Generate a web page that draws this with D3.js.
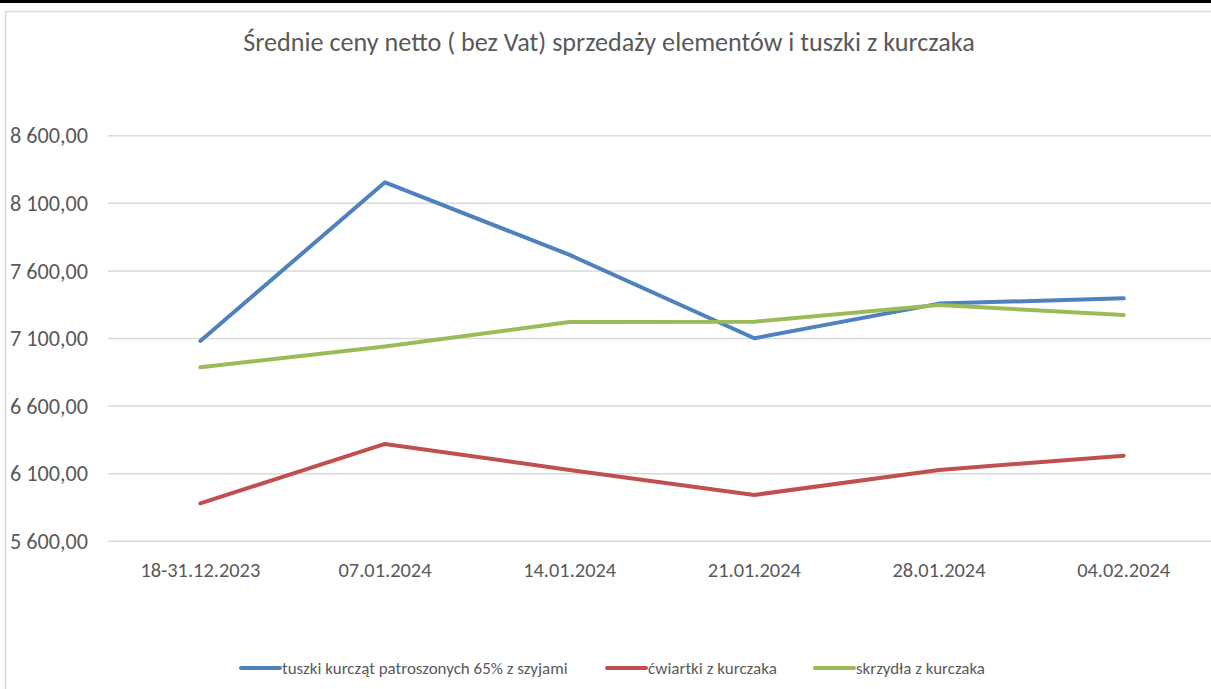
<!DOCTYPE html>
<html>
<head>
<meta charset="utf-8">
<script src="https://cdn.jsdelivr.net/npm/d3@7"></script>
<style>
  body { margin: 0; background: #fff; }
  svg { display: block; font-family: Calibri, Carlito, Lato, sans-serif; }
</style>
</head>
<body>
<div id="chart"></div>
<script>
const categories = ["18-31.12.2023", "07.01.2024", "14.01.2024", "21.01.2024", "28.01.2024", "04.02.2024"];
const tuszki = [7082, 8255, 7718, 7102, 7358, 7397];
const cwiartki = [5881, 6320, 6128, 5943, 6128, 6233];
const skrzydla = [6887, 7040, 7222, 7224, 7348, 7274];
const seriesNames = ["tuszki kurcząt patroszonych 65% z szyjami", "ćwiartki z kurczaka", "skrzydła z kurczaka"];
const yTicks = [5600, 6100, 6600, 7100, 7600, 8100, 8600];
const title = "Średnie ceny netto ( bez Vat) sprzedaży elementów i tuszki z kurczaka";

const colors = ["#4f81bd", "#c0504d", "#9bbb59"];
const series = [tuszki, cwiartki, skrzydla];

const W = 1211, H = 689;
const svg = d3.select("#chart").append("svg")
    .attr("width", W)
    .attr("height", H);

// frame
svg.append("rect").attr("x", 0).attr("y", 0).attr("width", W).attr("height", 3).attr("fill", "#000");
svg.append("rect")
    .attr("x", 5.5).attr("y", 11.5)
    .attr("width", W + 10).attr("height", H + 10)
    .attr("fill", "#fff").attr("stroke", "#d9d9d9").attr("stroke-width", 1.5);

const x = d3.scaleBand().domain(categories).range([108, 1216]);
const y = d3.scaleLinear().domain([5600, 8600]).range([541.3, 135.7]);
const cx = (d) => x(d) + x.bandwidth() / 2;

// fit text to a width by adjusting font size
function fit(sel, width) {
    sel.each(function() {
        const len = this.getComputedTextLength();
        const fs = parseFloat(d3.select(this).attr("font-size"));
        d3.select(this).attr("font-size", fs * width / len);
    });
}

// title
svg.append("text")
    .attr("x", 609).attr("y", 51)
    .attr("text-anchor", "middle")
    .attr("font-size", 22)
    .attr("fill", "#595959")
    .text(title)
    .call(fit, 732);

// gridlines
svg.append("g").selectAll("line")
    .data(yTicks)
    .join("line")
    .attr("x1", 108).attr("x2", 1216)
    .attr("y1", (d) => y(d)).attr("y2", (d) => y(d))
    .attr("stroke", "#d9d9d9").attr("stroke-width", 1.5);

// y axis labels
const fmt = (v) => d3.format(",.2f")(v).replace(/,/g, " ").replace(".", ",");
svg.append("g").selectAll("text")
    .data(yTicks)
    .join("text")
    .attr("x", 88).attr("y", (d) => y(d))
    .attr("dy", "0.35em")
    .attr("text-anchor", "end")
    .attr("font-size", 22.2)
    .attr("fill", "#595959")
    .text(fmt);

// x axis labels
svg.append("g").selectAll("text")
    .data(categories)
    .join("text")
    .attr("x", cx).attr("y", 577)
    .attr("text-anchor", "middle")
    .attr("font-size", 20.4)
    .attr("fill", "#595959")
    .text((d) => d);

// lines
const line = d3.line()
    .x((d, i) => cx(categories[i]))
    .y((d) => y(d));

svg.append("g").selectAll("path")
    .data(series)
    .join("path")
    .attr("d", line)
    .attr("fill", "none")
    .attr("stroke", (d, i) => colors[i])
    .attr("stroke-width", 4)
    .attr("stroke-linecap", "round")
    .attr("stroke-linejoin", "round");

// legend
const legendX = [241, 607, 815];
const leg = svg.append("g").selectAll("g")
    .data(seriesNames)
    .join("g")
    .attr("transform", (d, i) => "translate(" + legendX[i] + ",668)");
leg.append("line")
    .attr("x1", 0).attr("x2", 39)
    .attr("stroke", (d, i) => colors[i])
    .attr("stroke-width", 4)
    .attr("stroke-linecap", "round");
leg.append("text")
    .attr("x", 41).attr("dy", "0.35em")
    .attr("font-size", 16)
    .attr("fill", "#595959")
    .text((d) => d);
leg.select("text").each(function(d, i) {
    d3.select(this).call(fit, [286, 129, 129][i]);
});
</script>
</body>
</html>
